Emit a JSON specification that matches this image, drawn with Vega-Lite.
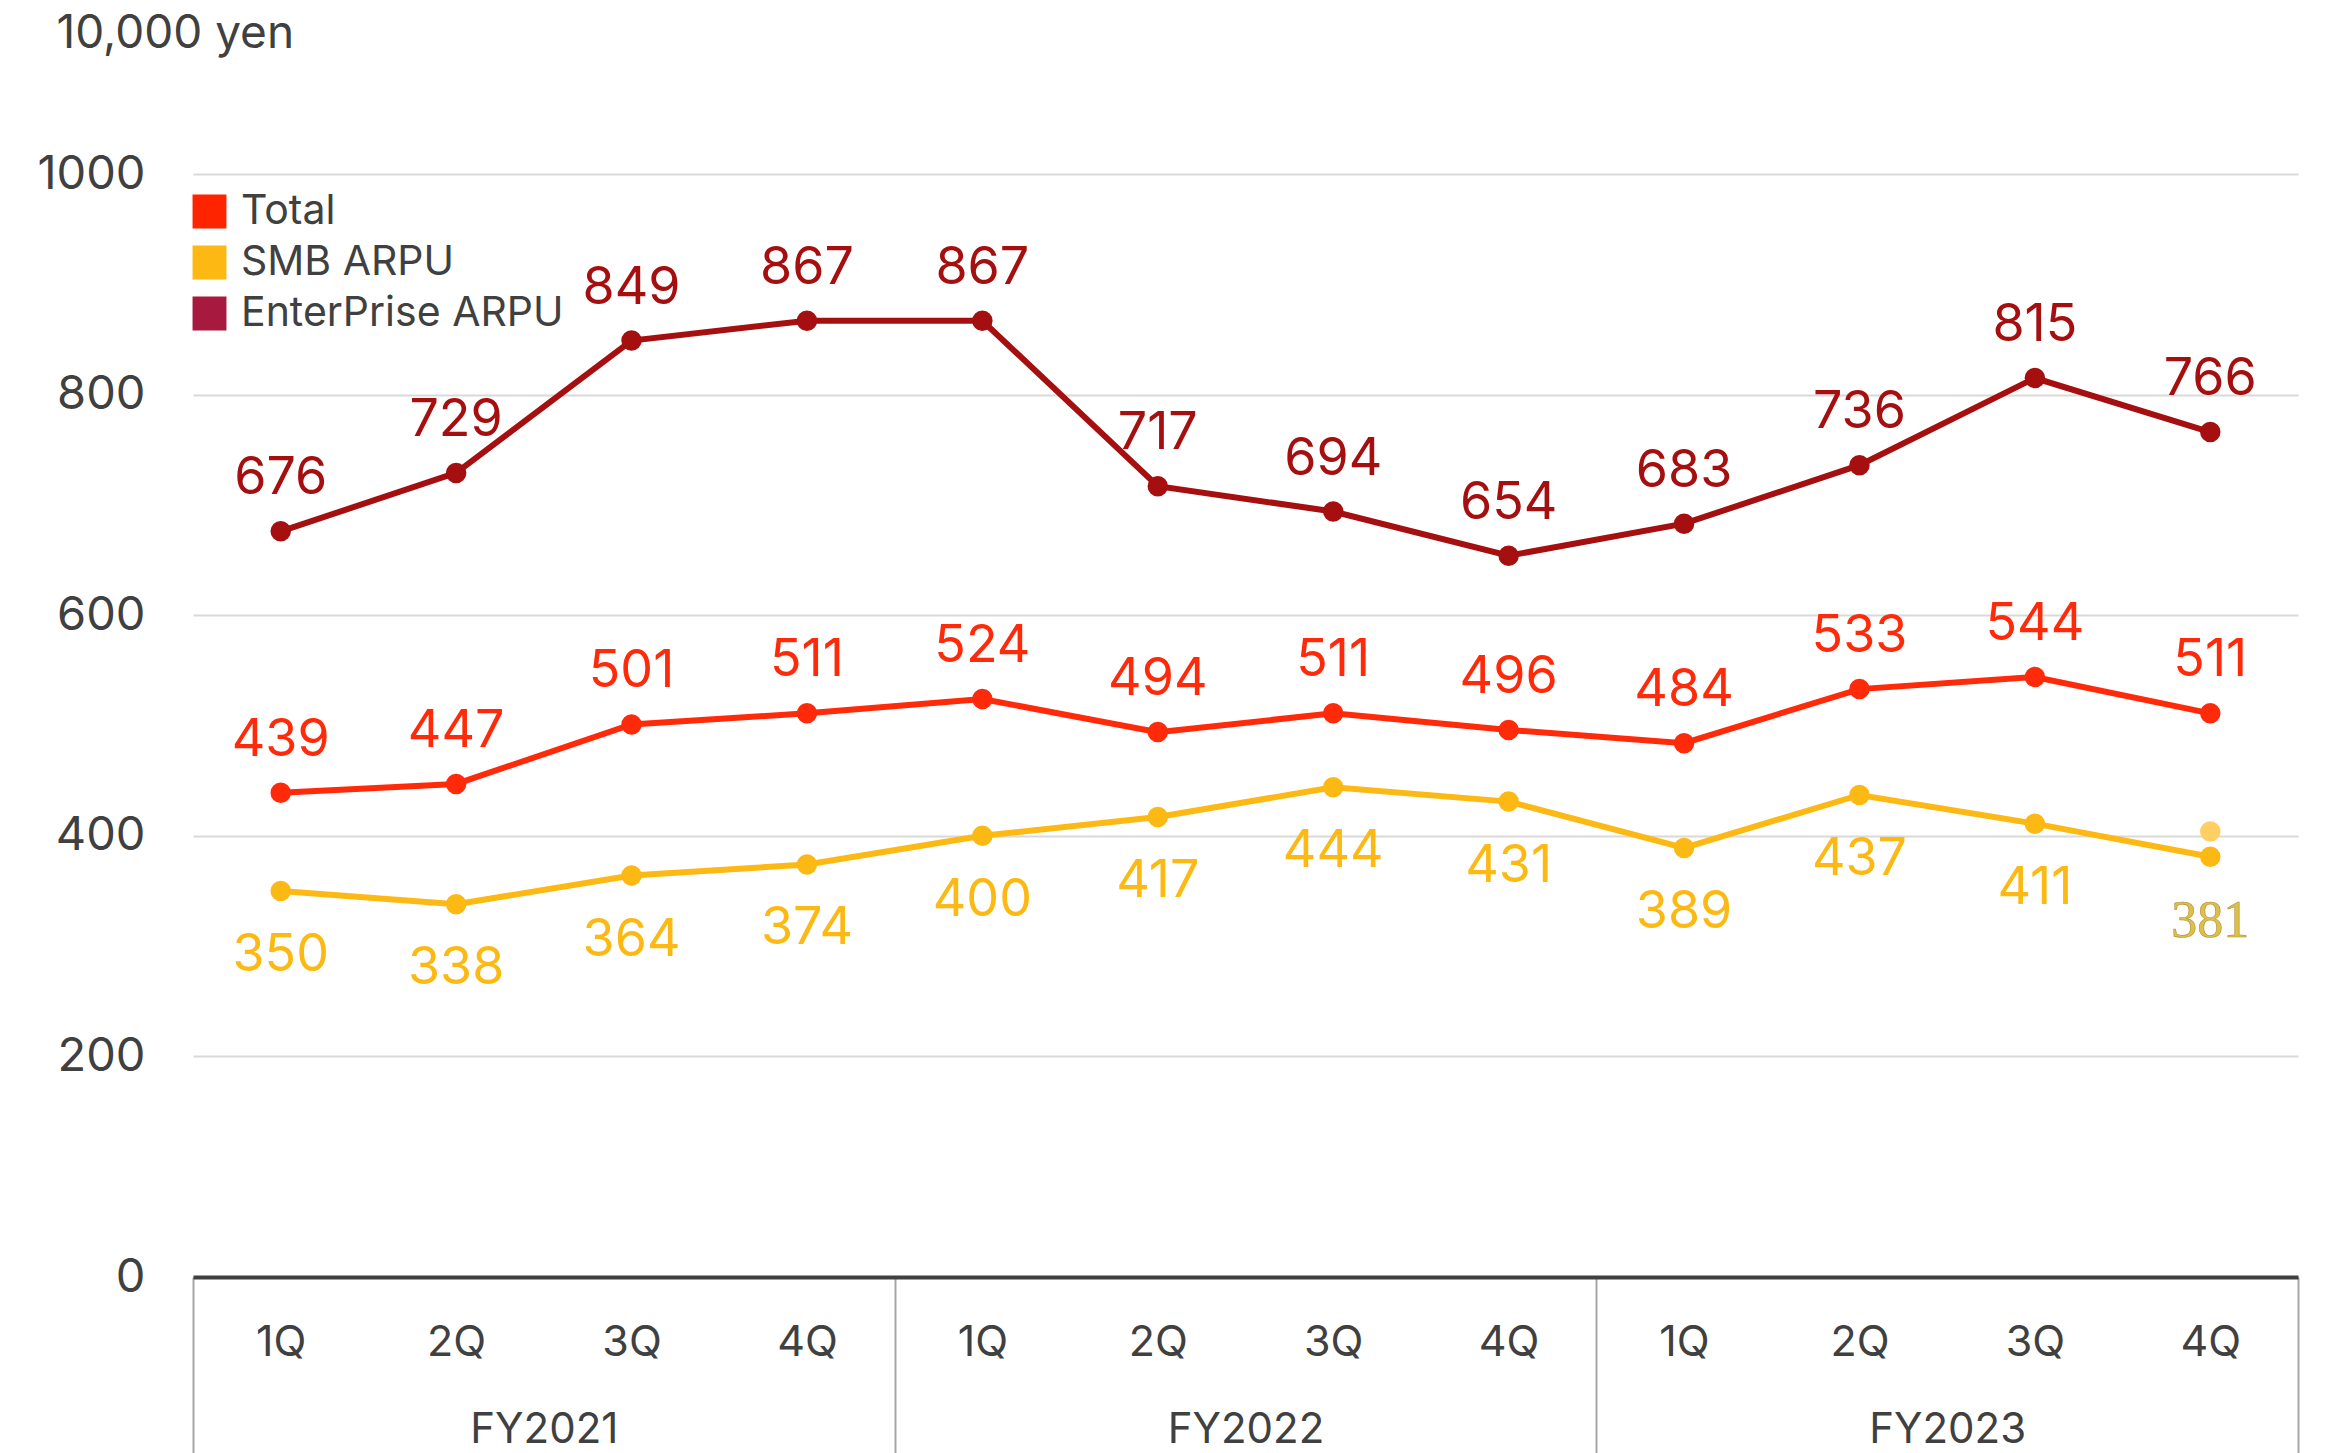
{
  "$schema": "https://vega.github.io/schema/vega-lite/v6.json",
  "width": 2105,
  "height": 1103,
  "autosize": {"type": "none"},
  "padding": {"left": 193, "top": 174, "right": 33, "bottom": 176},
  "background": "white",
  "config": {
    "font": "Inter",
    "view": {"stroke": null}
  },
  "datasets": {
    "d": [
      {"key": "FY2021 1Q", "fy": "FY2021", "series": "EnterPrise ARPU", "value": 676},
      {"key": "FY2021 2Q", "fy": "FY2021", "series": "EnterPrise ARPU", "value": 729},
      {"key": "FY2021 3Q", "fy": "FY2021", "series": "EnterPrise ARPU", "value": 849},
      {"key": "FY2021 4Q", "fy": "FY2021", "series": "EnterPrise ARPU", "value": 867},
      {"key": "FY2022 1Q", "fy": "FY2022", "series": "EnterPrise ARPU", "value": 867},
      {"key": "FY2022 2Q", "fy": "FY2022", "series": "EnterPrise ARPU", "value": 717},
      {"key": "FY2022 3Q", "fy": "FY2022", "series": "EnterPrise ARPU", "value": 694},
      {"key": "FY2022 4Q", "fy": "FY2022", "series": "EnterPrise ARPU", "value": 654},
      {"key": "FY2023 1Q", "fy": "FY2023", "series": "EnterPrise ARPU", "value": 683},
      {"key": "FY2023 2Q", "fy": "FY2023", "series": "EnterPrise ARPU", "value": 736},
      {"key": "FY2023 3Q", "fy": "FY2023", "series": "EnterPrise ARPU", "value": 815},
      {"key": "FY2023 4Q", "fy": "FY2023", "series": "EnterPrise ARPU", "value": 766},
      {"key": "FY2021 1Q", "fy": "FY2021", "series": "Total", "value": 439},
      {"key": "FY2021 2Q", "fy": "FY2021", "series": "Total", "value": 447},
      {"key": "FY2021 3Q", "fy": "FY2021", "series": "Total", "value": 501},
      {"key": "FY2021 4Q", "fy": "FY2021", "series": "Total", "value": 511},
      {"key": "FY2022 1Q", "fy": "FY2022", "series": "Total", "value": 524},
      {"key": "FY2022 2Q", "fy": "FY2022", "series": "Total", "value": 494},
      {"key": "FY2022 3Q", "fy": "FY2022", "series": "Total", "value": 511},
      {"key": "FY2022 4Q", "fy": "FY2022", "series": "Total", "value": 496},
      {"key": "FY2023 1Q", "fy": "FY2023", "series": "Total", "value": 484},
      {"key": "FY2023 2Q", "fy": "FY2023", "series": "Total", "value": 533},
      {"key": "FY2023 3Q", "fy": "FY2023", "series": "Total", "value": 544},
      {"key": "FY2023 4Q", "fy": "FY2023", "series": "Total", "value": 511},
      {"key": "FY2021 1Q", "fy": "FY2021", "series": "SMB ARPU", "value": 350},
      {"key": "FY2021 2Q", "fy": "FY2021", "series": "SMB ARPU", "value": 338},
      {"key": "FY2021 3Q", "fy": "FY2021", "series": "SMB ARPU", "value": 364},
      {"key": "FY2021 4Q", "fy": "FY2021", "series": "SMB ARPU", "value": 374},
      {"key": "FY2022 1Q", "fy": "FY2022", "series": "SMB ARPU", "value": 400},
      {"key": "FY2022 2Q", "fy": "FY2022", "series": "SMB ARPU", "value": 417},
      {"key": "FY2022 3Q", "fy": "FY2022", "series": "SMB ARPU", "value": 444},
      {"key": "FY2022 4Q", "fy": "FY2022", "series": "SMB ARPU", "value": 431},
      {"key": "FY2023 1Q", "fy": "FY2023", "series": "SMB ARPU", "value": 389},
      {"key": "FY2023 2Q", "fy": "FY2023", "series": "SMB ARPU", "value": 437},
      {"key": "FY2023 3Q", "fy": "FY2023", "series": "SMB ARPU", "value": 411},
      {"key": "FY2023 4Q", "fy": "FY2023", "series": "SMB ARPU", "value": 381}
    ],
    "ghost": [
      {"key": "FY2023 4Q", "value": 404}
    ]
  },
  "layer": [
    {
      "data": {"name": "d"},
      "encoding": {
        "x": {
          "field": "key", "type": "nominal",
          "scale": {
            "domain": ["FY2021 1Q","FY2021 2Q","FY2021 3Q","FY2021 4Q","FY2022 1Q","FY2022 2Q","FY2022 3Q","FY2022 4Q","FY2023 1Q","FY2023 2Q","FY2023 3Q","FY2023 4Q"],
            "paddingInner": 0, "paddingOuter": 0
          },
          "sort": null,
          "axis": {
            "title": null,
            "labelExpr": "split(datum.label, ' ')[1]",
            "labelAngle": 0,
            "labelFontSize": 43,
            "labelColor": "#404040",
            "labelPadding": 65,
            "labelBaseline": "middle",
            "ticks": false,
            "domain": true,
            "domainColor": "#404040",
            "domainWidth": 4,
            "grid": false,
            "zindex": 2
          }
        },
        "y": {
          "field": "value", "type": "quantitative",
          "scale": {"domain": [0, 1000], "nice": false},
          "axis": {
            "values": [0, 200, 400, 600, 800, 1000],
            "format": "d",
            "title": "10,000 yen",
            "titleAngle": 0,
            "titleAlign": "left",
            "titleBaseline": "middle",
            "titleX": -137,
            "titleY": -141,
            "titleFontSize": 46,
            "titleFontWeight": "normal",
            "titleColor": "#404040",
            "labelFontSize": 47,
            "labelColor": "#404040",
            "labelPadding": 48,
            "ticks": false,
            "domain": false,
            "grid": true,
            "gridColor": "#d9d9d9",
            "gridWidth": 2
          }
        },
        "color": {
          "field": "series", "type": "nominal",
          "scale": {"domain": ["EnterPrise ARPU", "Total", "SMB ARPU"], "range": ["#A50F0F", "#FF2A0A", "#FDB913"]},
          "legend": null
        }
      },
      "layer": [
        {"mark": {"type": "line", "strokeWidth": 6}},
        {"mark": {"type": "point", "filled": true, "size": 420, "opacity": 1}},
        {
          "data": {"name": "ghost"},
          "mark": {"type": "point", "filled": true, "size": 420, "opacity": 1},
          "encoding": {"color": {"value": "#FFCF66"}}
        },
        {
          "transform": [{"filter": "datum.series != 'SMB ARPU'"}],
          "mark": {"type": "text", "fontSize": 52, "dy": -53, "baseline": "middle"},
          "encoding": {"text": {"field": "value", "type": "quantitative"}}
        },
        {
          "transform": [{"filter": "datum.series == 'SMB ARPU' && datum.key != 'FY2023 4Q'"}],
          "mark": {"type": "text", "fontSize": 52, "dy": 64, "baseline": "middle"},
          "encoding": {"text": {"field": "value", "type": "quantitative"}}
        },
        {
          "transform": [{"filter": "datum.series == 'SMB ARPU' && datum.key == 'FY2023 4Q'"}],
          "mark": {"type": "text", "fontSize": 52, "dy": 64, "baseline": "middle", "font": "Liberation Serif", "stroke": "#B09030", "strokeWidth": 0.6},
          "encoding": {"text": {"field": "value", "type": "quantitative"}, "color": {"value": "#DDBF4A"}}
        }
      ]
    },
    {
      "data": {"name": "d"},
      "mark": {"type": "text", "text": ""},
      "encoding": {
        "text": {"value": ""},
        "fill": {
          "field": "series", "type": "nominal",
          "scale": {"domain": ["Total", "SMB ARPU", "EnterPrise ARPU"], "range": ["#FF2400", "#FDB813", "#A8193F"]},
          "legend": {
            "title": null,
            "orient": "none",
            "legendX": -4,
            "legendY": 17,
            "symbolType": "square",
            "symbolSize": 1150,
            "symbolOpacity": 1,
            "symbolStrokeWidth": 0,
            "labelFontSize": 41,
            "labelColor": "#404040",
            "labelFont": "Inter",
            "labelLimit": 0,
            "labelOffset": 11,
            "rowPadding": 9
          }
        }
      }
    },
    {
      "data": {"name": "d"},
      "mark": {"type": "point", "opacity": 0, "size": 1},
      "encoding": {
        "x": {
          "field": "fy", "type": "nominal",
          "scale": {"domain": ["FY2021", "FY2022", "FY2023"], "paddingInner": 0, "paddingOuter": 0},
          "axis": {
            "title": null,
            "orient": "bottom",
            "labelAngle": 0,
            "labelFontSize": 42,
            "labelColor": "#404040",
            "labelPadding": -24,
            "labelBaseline": "middle",
            "domain": false,
            "ticks": true,
            "tickBand": "extent",
            "tickSize": 176,
            "tickColor": "#a6a6a6",
            "tickWidth": 2,
            "grid": false
          }
        }
      }
    }
  ],
  "resolve": {"scale": {"x": "independent"}, "axis": {"x": "independent"}}
}
